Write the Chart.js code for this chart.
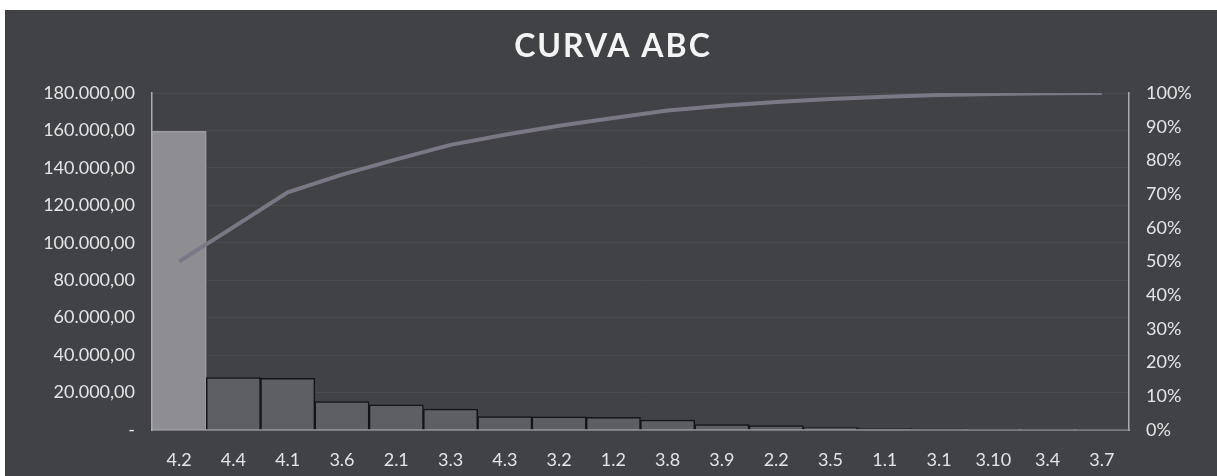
<!DOCTYPE html>
<html>
<head>
<meta charset="utf-8">
<script src="https://cdn.jsdelivr.net/npm/chart.js@4"></script>
<style>
  html, body { margin: 0; padding: 0; background: #ffffff; }
  canvas { display: block; }
</style>
</head>
<body>
<canvas id="c" width="1217" height="476"></canvas>
<script>
// ---- data ----
const categories = ['4.2','4.4','4.1','3.6','2.1','3.3','4.3','3.2','1.2','3.8','3.9','2.2','3.5','1.1','3.1','3.10','3.4','3.7'];
const values = [159500, 28000, 27600, 15200, 13400, 11200, 7200, 7000, 6800, 5300, 2900, 2300, 1300, 800, 500, 350, 150, 80];
const cumulativePct = [50, 60.2, 70.5, 75.8, 80.3, 84.6, 87.6, 90.3, 92.6, 94.8, 96.2, 97.3, 98.2, 98.9, 99.4, 99.7, 99.9, 100];
const leftTickLabels = ['-', '20.000,00', '40.000,00', '60.000,00', '80.000,00', '100.000,00', '120.000,00', '140.000,00', '160.000,00', '180.000,00'];
const rightTickLabels = ['0%','10%','20%','30%','40%','50%','60%','70%','80%','90%','100%'];
const chartTitle = 'CURVA ABC';

const FONT = 'Lato, "Open Sans", sans-serif';
const BG = '#404246';
const TXT = '#e4e4e6';

const barFill = categories.map((c, i) => i === 0 ? '#8d8d92' : '#5e5f63');
const barBorder = categories.map((c, i) => i === 0 ? '#9c9ca1' : '#141416');

const bgPlugin = {
  id: 'bg',
  beforeDraw(chart) {
    const ctx = chart.ctx;
    ctx.save();
    ctx.fillStyle = '#ffffff';
    ctx.fillRect(0, 0, chart.width, chart.height);
    ctx.fillStyle = BG;
    ctx.fillRect(5, 10, chart.width - 5, chart.height - 10);
    ctx.restore();
  }
};

const titlePlugin = {
  id: 'customTitle',
  afterDraw(chart) {
    const ctx = chart.ctx;
    ctx.save();
    ctx.font = 'bold 32px ' + FONT;
    if ('letterSpacing' in ctx) ctx.letterSpacing = '2px';
    ctx.fillStyle = '#f4f4f4';
    ctx.textAlign = 'center';
    ctx.textBaseline = 'middle';
    ctx.fillText(chartTitle, 613, 47);
    ctx.restore();
  }
};

new Chart(document.getElementById('c'), {
  data: {
    labels: categories,
    datasets: [
      {
        type: 'line',
        data: cumulativePct,
        yAxisID: 'y1',
        borderColor: '#7a7885',
        borderWidth: 4,
        pointRadius: 0,
        tension: 0,
        order: 0
      },
      {
        type: 'bar',
        data: values,
        yAxisID: 'y',
        backgroundColor: barFill,
        borderColor: barBorder,
        borderWidth: { top: 1.5, left: 1.5, right: 1.5, bottom: 0 },
        borderSkipped: false,
        categoryPercentage: 1,
        barPercentage: 1,
        order: 1
      }
    ]
  },
  options: {
    responsive: false,
    animation: false,
    layout: { padding: { left: 5, right: 0, top: 93, bottom: 0 } },
    plugins: { legend: { display: false }, title: { display: false }, tooltip: { enabled: false } },
    scales: {
      x: {
        grid: { display: false, drawTicks: false },
        border: { display: true, color: '#a9a9ae', width: 1.5 },
        ticks: { color: TXT, font: { family: FONT, size: 18 }, padding: 19, maxRotation: 0, autoSkip: false },
        afterFit(s) { s.height = 46; }
      },
      y: {
        position: 'left',
        min: 0, max: 180000,
        grid: { display: true, drawTicks: false, color: 'rgba(140,140,148,0.12)' },
        border: { display: true, color: '#a9a9ae', width: 1.5 },
        ticks: {
          stepSize: 20000,
          color: TXT,
          font: { family: FONT, size: 18 },
          padding: 17,
          callback: (v) => leftTickLabels[Math.round(v / 20000)]
        },
        afterFit(s) { s.width = 147; }
      },
      y1: {
        position: 'right',
        min: 0, max: 100,
        grid: { display: false, drawTicks: false },
        border: { display: true, color: '#a9a9ae', width: 1.5 },
        ticks: {
          stepSize: 10,
          color: TXT,
          font: { family: FONT, size: 18 },
          padding: 17,
          callback: (v) => rightTickLabels[Math.round(v / 10)]
        },
        afterFit(s) { s.width = 88; }
      }
    }
  },
  plugins: [bgPlugin, titlePlugin]
});
</script>
</body>
</html>
